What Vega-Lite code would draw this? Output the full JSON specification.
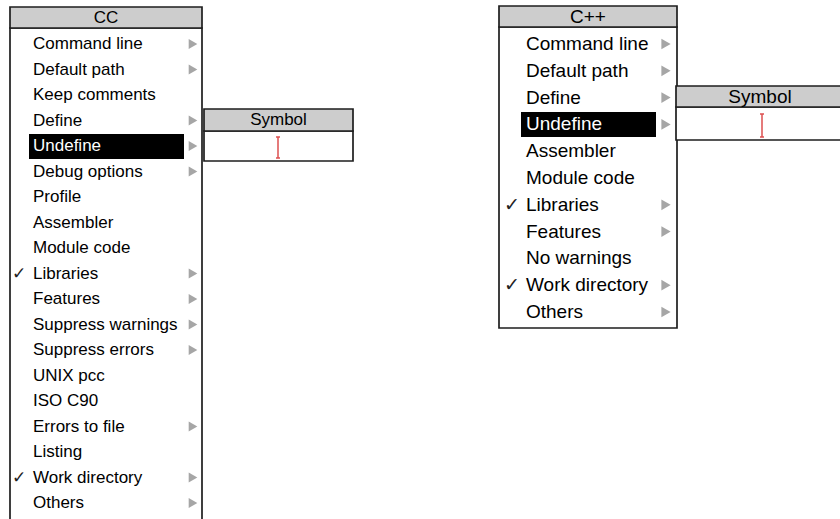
{
  "$schema": "https://vega.github.io/schema/vega-lite/v6.json",
  "width": 840,
  "height": 519,
  "autosize": {"type": "fit", "contains": "padding"},
  "padding": 0,
  "background": "#ffffff",
  "config": {"view": {"stroke": null}},
  "datasets": {
    "boxes": [
      {"x": 10, "x2": 202, "y": 28, "y2": 530, "kind": "body"},
      {"x": 10, "x2": 202, "y": 7, "y2": 28, "kind": "title"},
      {"x": 29, "x2": 184, "y": 134, "y2": 159, "kind": "hl"},
      {"x": 204, "x2": 353, "y": 131, "y2": 161, "kind": "field"},
      {"x": 204, "x2": 353, "y": 109, "y2": 131, "kind": "title"},
      {"x": 499, "x2": 677, "y": 27, "y2": 328, "kind": "body"},
      {"x": 499, "x2": 677, "y": 6, "y2": 27, "kind": "title"},
      {"x": 521, "x2": 656, "y": 112, "y2": 137, "kind": "hl"},
      {"x": 676, "x2": 845, "y": 107, "y2": 140, "kind": "field"},
      {"x": 676, "x2": 845, "y": 86, "y2": 107, "kind": "title"}
    ],
    "titles": [
      {"menu": "CC", "label": "CC", "x": 106, "y": 17.5},
      {"menu": "CC", "label": "Symbol", "x": 278.5, "y": 120},
      {"menu": "C++", "label": "C++", "x": 588, "y": 16.5},
      {"menu": "C++", "label": "Symbol", "x": 760, "y": 96.5}
    ],
    "items": [
      {"menu": "CC", "label": "Command line", "x": 33, "y": 44, "sel": false, "tick": false, "arrow": true},
      {"menu": "CC", "label": "Default path", "x": 33, "y": 69.5, "sel": false, "tick": false, "arrow": true},
      {"menu": "CC", "label": "Keep comments", "x": 33, "y": 95, "sel": false, "tick": false, "arrow": false},
      {"menu": "CC", "label": "Define", "x": 33, "y": 120.5, "sel": false, "tick": false, "arrow": true},
      {"menu": "CC", "label": "Undefine", "x": 33, "y": 146, "sel": true, "tick": false, "arrow": true},
      {"menu": "CC", "label": "Debug options", "x": 33, "y": 171.5, "sel": false, "tick": false, "arrow": true},
      {"menu": "CC", "label": "Profile", "x": 33, "y": 197, "sel": false, "tick": false, "arrow": false},
      {"menu": "CC", "label": "Assembler", "x": 33, "y": 222.5, "sel": false, "tick": false, "arrow": false},
      {"menu": "CC", "label": "Module code", "x": 33, "y": 248, "sel": false, "tick": false, "arrow": false},
      {"menu": "CC", "label": "Libraries", "x": 33, "y": 273.5, "sel": false, "tick": true, "arrow": true},
      {"menu": "CC", "label": "Features", "x": 33, "y": 299, "sel": false, "tick": false, "arrow": true},
      {"menu": "CC", "label": "Suppress warnings", "x": 33, "y": 324.5, "sel": false, "tick": false, "arrow": true},
      {"menu": "CC", "label": "Suppress errors", "x": 33, "y": 350, "sel": false, "tick": false, "arrow": true},
      {"menu": "CC", "label": "UNIX pcc", "x": 33, "y": 375.5, "sel": false, "tick": false, "arrow": false},
      {"menu": "CC", "label": "ISO C90", "x": 33, "y": 401, "sel": false, "tick": false, "arrow": false},
      {"menu": "CC", "label": "Errors to file", "x": 33, "y": 426.5, "sel": false, "tick": false, "arrow": true},
      {"menu": "CC", "label": "Listing", "x": 33, "y": 452, "sel": false, "tick": false, "arrow": false},
      {"menu": "CC", "label": "Work directory", "x": 33, "y": 477.5, "sel": false, "tick": true, "arrow": true},
      {"menu": "CC", "label": "Others", "x": 33, "y": 503, "sel": false, "tick": false, "arrow": true},
      {"menu": "C++", "label": "Command line", "x": 526, "y": 44, "sel": false, "tick": false, "arrow": true},
      {"menu": "C++", "label": "Default path", "x": 526, "y": 70.8, "sel": false, "tick": false, "arrow": true},
      {"menu": "C++", "label": "Define", "x": 526, "y": 97.6, "sel": false, "tick": false, "arrow": true},
      {"menu": "C++", "label": "Undefine", "x": 526, "y": 124.4, "sel": true, "tick": false, "arrow": true},
      {"menu": "C++", "label": "Assembler", "x": 526, "y": 151.2, "sel": false, "tick": false, "arrow": false},
      {"menu": "C++", "label": "Module code", "x": 526, "y": 178, "sel": false, "tick": false, "arrow": false},
      {"menu": "C++", "label": "Libraries", "x": 526, "y": 204.8, "sel": false, "tick": true, "arrow": true},
      {"menu": "C++", "label": "Features", "x": 526, "y": 231.6, "sel": false, "tick": false, "arrow": true},
      {"menu": "C++", "label": "No warnings", "x": 526, "y": 258.4, "sel": false, "tick": false, "arrow": false},
      {"menu": "C++", "label": "Work directory", "x": 526, "y": 285.2, "sel": false, "tick": true, "arrow": true},
      {"menu": "C++", "label": "Others", "x": 526, "y": 312, "sel": false, "tick": false, "arrow": true}
    ],
    "cursor": [
      {"x": 278, "x2": 278, "y": 137, "y2": 158},
      {"x": 276, "x2": 280, "y": 137, "y2": 137},
      {"x": 276, "x2": 280, "y": 158, "y2": 158},
      {"x": 762, "x2": 762, "y": 114, "y2": 137},
      {"x": 760, "x2": 764, "y": 114, "y2": 114},
      {"x": 760, "x2": 764, "y": 137, "y2": 137}
    ]
  },
  "layer": [
    {
      "data": {"name": "boxes"},
      "mark": {"type": "rect", "clip": true},
      "encoding": {
        "x": {"field": "x", "type": "quantitative", "scale": {"domain": [0, 840], "nice": false, "zero": false}, "axis": null},
        "x2": {"field": "x2"},
        "y": {"field": "y", "type": "quantitative", "scale": {"domain": [0, 519], "nice": false, "zero": false, "reverse": true}, "axis": null},
        "y2": {"field": "y2"},
        "fill": {"field": "kind", "type": "nominal", "scale": {"domain": ["body", "title", "field", "hl"], "range": ["#ffffff", "#cdcdcd", "#ffffff", "#000000"]}, "legend": null},
        "stroke": {"value": "#1e1e1e"},
        "strokeWidth": {"condition": {"test": "datum.kind === 'hl'", "value": 0}, "value": 1.7}
      }
    },
    {
      "data": {"name": "cursor"},
      "mark": {"type": "rule", "color": "#dd4f4f", "strokeWidth": 1.5},
      "encoding": {
        "x": {"field": "x", "type": "quantitative"},
        "x2": {"field": "x2"},
        "y": {"field": "y", "type": "quantitative"},
        "y2": {"field": "y2"}
      }
    },
    {
      "data": {"name": "titles"},
      "transform": [{"filter": "datum.menu === 'CC'"}],
      "mark": {"type": "text", "font": "Liberation Sans", "fontSize": 17, "align": "center", "baseline": "middle", "color": "#000000"},
      "encoding": {
        "x": {"field": "x", "type": "quantitative"},
        "y": {"field": "y", "type": "quantitative"},
        "text": {"field": "label"}
      }
    },
    {
      "data": {"name": "titles"},
      "transform": [{"filter": "datum.menu === 'C++'"}],
      "mark": {"type": "text", "font": "Liberation Sans", "fontSize": 19, "align": "center", "baseline": "middle", "color": "#000000"},
      "encoding": {
        "x": {"field": "x", "type": "quantitative"},
        "y": {"field": "y", "type": "quantitative"},
        "text": {"field": "label"}
      }
    },
    {
      "data": {"name": "items"},
      "transform": [{"filter": "datum.menu === 'CC'"}],
      "mark": {"type": "text", "font": "Liberation Sans", "fontSize": 17, "align": "left", "baseline": "middle"},
      "encoding": {
        "x": {"field": "x", "type": "quantitative"},
        "y": {"field": "y", "type": "quantitative"},
        "text": {"field": "label"},
        "color": {"condition": {"test": "datum.sel", "value": "#ffffff"}, "value": "#000000"}
      }
    },
    {
      "data": {"name": "items"},
      "transform": [{"filter": "datum.menu === 'C++'"}],
      "mark": {"type": "text", "font": "Liberation Sans", "fontSize": 19, "align": "left", "baseline": "middle"},
      "encoding": {
        "x": {"field": "x", "type": "quantitative"},
        "y": {"field": "y", "type": "quantitative"},
        "text": {"field": "label"},
        "color": {"condition": {"test": "datum.sel", "value": "#ffffff"}, "value": "#000000"}
      }
    },
    {
      "data": {"name": "items"},
      "transform": [{"filter": "datum.tick && datum.menu === 'CC'"}],
      "mark": {"type": "text", "font": "DejaVu Sans", "fontSize": 17, "align": "center", "baseline": "middle", "color": "#222222", "text": "✓", "dx": -14},
      "encoding": {
        "x": {"field": "x", "type": "quantitative"},
        "y": {"field": "y", "type": "quantitative"}
      }
    },
    {
      "data": {"name": "items"},
      "transform": [{"filter": "datum.tick && datum.menu === 'C++'"}],
      "mark": {"type": "text", "font": "DejaVu Sans", "fontSize": 19, "align": "center", "baseline": "middle", "color": "#222222", "text": "✓", "dx": -14},
      "encoding": {
        "x": {"field": "x", "type": "quantitative"},
        "y": {"field": "y", "type": "quantitative"}
      }
    },
    {
      "data": {"name": "items"},
      "transform": [{"filter": "datum.arrow && datum.menu === 'CC'"}],
      "mark": {"type": "point", "shape": "triangle-right", "filled": true, "color": "#a6a6a6", "size": 100, "opacity": 1},
      "encoding": {
        "x": {"field": "x", "type": "quantitative"},
        "y": {"field": "y", "type": "quantitative"},
        "xOffset": {"value": 160}
      }
    },
    {
      "data": {"name": "items"},
      "transform": [{"filter": "datum.arrow && datum.menu === 'C++'"}],
      "mark": {"type": "point", "shape": "triangle-right", "filled": true, "color": "#a6a6a6", "size": 115, "opacity": 1},
      "encoding": {
        "x": {"field": "x", "type": "quantitative"},
        "y": {"field": "y", "type": "quantitative"},
        "xOffset": {"value": 140}
      }
    }
  ]
}
